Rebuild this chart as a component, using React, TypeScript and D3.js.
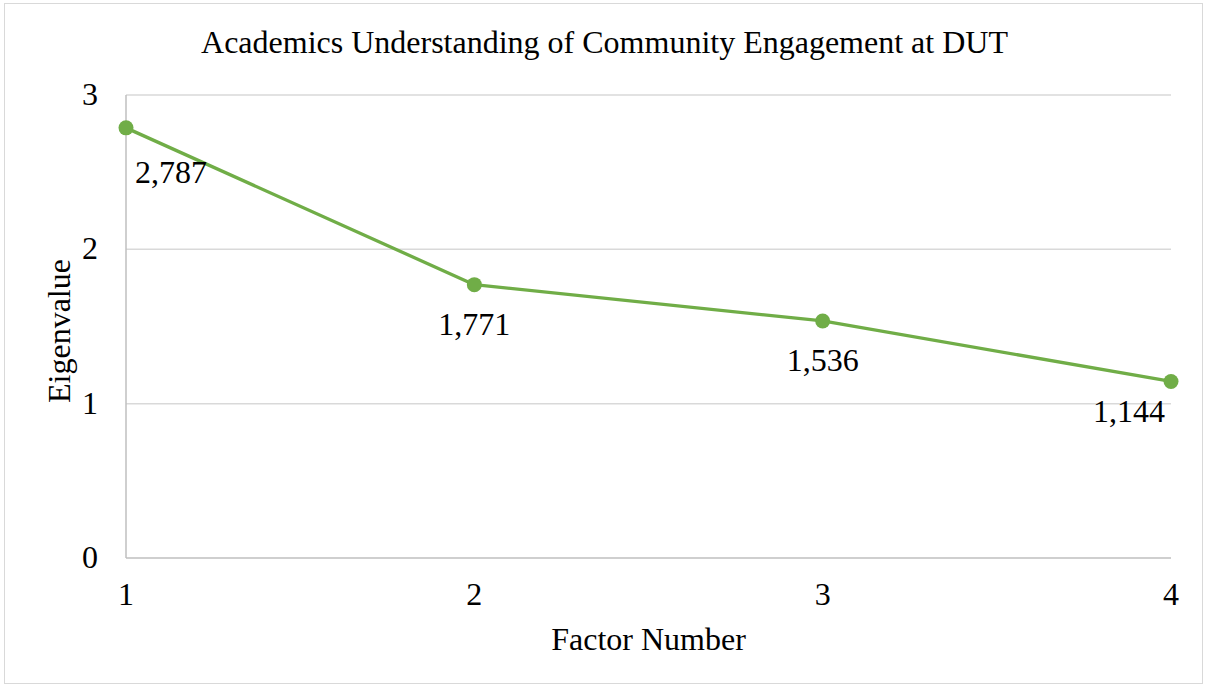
import React from "react";
import * as d3 from "d3";

const factors = [1, 2, 3, 4];
const eigenvalues = [2.787, 1.771, 1.536, 1.144];
const valueLabels = ["2,787", "1,771", "1,536", "1,144"];
const yTicks = [0, 1, 2, 3];

const W = 1207;
const H = 687;
const FONT = "'Liberation Serif', 'Times New Roman', serif";
const FS = 32;

export default function App() {
  const x = d3.scaleLinear().domain([1, 4]).range([126, 1171]);
  const y = d3.scaleLinear().domain([0, 3]).range([558, 95]);
  const pts = factors.map((f, i) => [x(f), y(eigenvalues[i])] as [number, number]);
  const line = d3.line()(pts) as string;

  // data labels sit below each marker; the edge ones are pulled inside the plot
  const labelPos = pts.map(([px, py], i) => {
    if (i === 0) return { x: px + 9, y: py + 55, anchor: "start" };
    if (i === pts.length - 1) return { x: px - 6, y: py + 41, anchor: "end" };
    return { x: px, y: py + 50, anchor: "middle" };
  });

  return (
    <svg
      width={W}
      height={H}
      style={{ position: "absolute", left: 0, top: 0, background: "#fff" }}
      fontFamily={FONT}
    >
      <rect x={4.5} y={3.5} width={W - 9} height={H - 7} fill="#fff" stroke="#d9d9d9" strokeWidth={1} />
      <text x={604.5} y={53} textAnchor="middle" fontSize={FS} fill="#000">
        Academics Understanding of Community Engagement at DUT
      </text>

      {yTicks.map((t) => (
        <g key={t}>
          {t > 0 && (
            <line x1={126} x2={1171} y1={y(t)} y2={y(t)} stroke="#d9d9d9" strokeWidth={1.5} />
          )}
          <text x={98} y={y(t) + 10} textAnchor="end" fontSize={FS} fill="#000">
            {t}
          </text>
        </g>
      ))}
      <line x1={126} x2={126} y1={95} y2={558} stroke="#bfbfbf" strokeWidth={1.5} />
      <line x1={126} x2={1171} y1={558} y2={558} stroke="#bfbfbf" strokeWidth={1.5} />

      {factors.map((f) => (
        <text key={f} x={x(f)} y={605} textAnchor="middle" fontSize={FS} fill="#000">
          {f}
        </text>
      ))}

      <path d={line} fill="none" stroke="#70ad47" strokeWidth={3.3} strokeLinejoin="round" />
      {pts.map(([px, py], i) => (
        <circle key={i} cx={px} cy={py} r={7.5} fill="#70ad47" />
      ))}
      {labelPos.map((p, i) => (
        <text key={i} x={p.x} y={p.y} textAnchor={p.anchor as any} fontSize={FS} fill="#000">
          {valueLabels[i]}
        </text>
      ))}

      <text x={648.5} y={650} textAnchor="middle" fontSize={FS} fill="#000">
        Factor Number
      </text>
      <text
        transform={`translate(70, 331) rotate(-90)`}
        textAnchor="middle"
        fontSize={FS}
        fill="#000"
      >
        Eigenvalue
      </text>
    </svg>
  );
}
